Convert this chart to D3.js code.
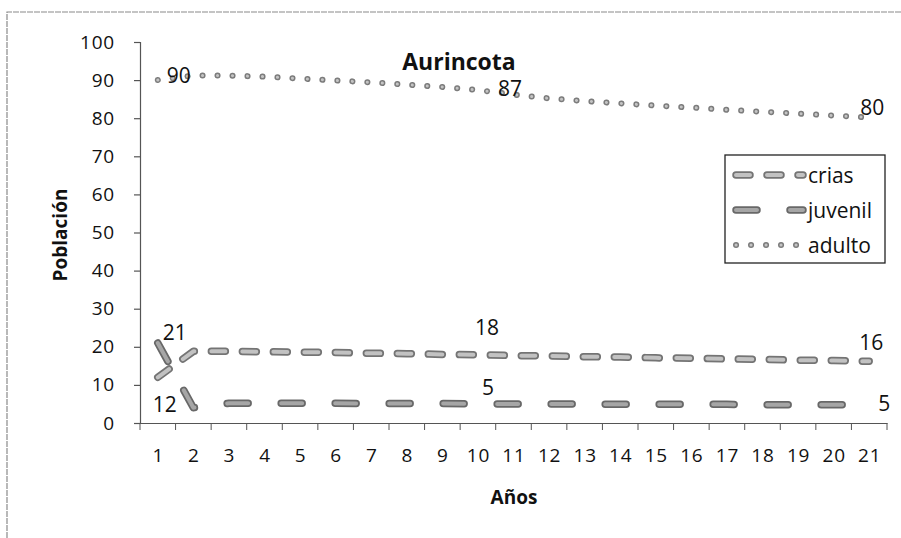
<!DOCTYPE html>
<html>
<head>
<meta charset="utf-8">
<script src="https://cdn.jsdelivr.net/npm/d3@7"></script>
<style>
  body { margin: 0; background: #fff; }
  svg { display: block; font-family: "Open Sans", "Noto Sans", sans-serif; }
</style>
</head>
<body>
<div id="chart-container"></div>
<script>
// Datos
var years = [1, 2, 3, 4, 5, 6, 7, 8, 9, 10, 11, 12, 13, 14, 15, 16, 17, 18, 19, 20, 21];
var crias = [12, 18.8, 18.8, 18.7, 18.6, 18.5, 18.3, 18.2, 18.0, 17.9, 17.7,
             17.6, 17.4, 17.3, 17.1, 17.0, 16.8, 16.7, 16.5, 16.4, 16.2];
var juvenil = [21, 4, 5.2, 5.2, 5.2, 5.2, 5.1, 5.1, 5.1, 5.0, 5.0,
               5.0, 5.0, 4.9, 4.9, 4.9, 4.9, 4.8, 4.8, 4.8, 4.8];
var adulto = [90, 91.2, 91.2, 90.9, 90.4, 89.9, 89.4, 88.8, 88.2, 87.4, 86.2,
              85.2, 84.5, 83.9, 83.3, 82.8, 82.2, 81.7, 81.2, 80.7, 80.2];
var yTicks = [0, 10, 20, 30, 40, 50, 60, 70, 80, 90, 100];
var seriesNames = ["crias", "juvenil", "adulto"];
var labelledIdx = [0, 9, 20];

//Namespaces
var aur = aur || {};

aur.svg = function() {
  return d3.select("#chart-container").append("svg")
    .attr("width", 901).attr("height", 538);
}

aur.x = d3.scalePoint().domain(years).range([140, 887]).padding(0.5);
aur.xBand = d3.scaleBand().domain(years).range([140, 887]);
aur.y = d3.scaleLinear().domain([0, 100]).range([423, 42]);

// estilos de linea (contorno oscuro + relleno claro)
aur.styles = {
  crias:   { outer: "#747474", inner: "#c2c2c2", w: 7.5, wi: 4, dash: "14,17" },
  juvenil: { outer: "#686868", inner: "#a6a6a6", w: 7.5, wi: 4, dash: "21,33" },
  adulto:  { outer: "#7c7c7c", inner: "#c4c4c4", w: 6,   wi: 3, dash: "0.1,14.9" }
};

// posiciones de etiquetas por serie [dx, dy, anchor]
aur.labelPos = {
  crias:   [[7, 27, "middle"], [9, -28, "middle"], [2, -19, "middle"]],
  juvenil: [[17, -11, "middle"], [10, -17, "middle"], [9, -2, "start"]],
  adulto:  [[9, -5, "start"], [20, -2, "start"], [-9, -10, "start"]]
};

aur.drawStyled = function(g, d, st) {
  g.append("path").attr("d", d).attr("fill", "none")
    .attr("stroke", st.outer).attr("stroke-width", st.w)
    .attr("stroke-linecap", "round").attr("stroke-linejoin", "round")
    .attr("stroke-dasharray", st.dash);
  g.append("path").attr("d", d).attr("fill", "none")
    .attr("stroke", st.inner).attr("stroke-width", st.wi)
    .attr("stroke-linecap", "round").attr("stroke-linejoin", "round")
    .attr("stroke-dasharray", st.dash);
}

aur.build = function() {
  var svg = aur.svg();
  var data = { crias: crias, juvenil: juvenil, adulto: adulto };

  // marco exterior
  svg.append("path").attr("d", "M7,538 V12 H901")
    .attr("fill", "none").attr("stroke", "#8a8a8a").attr("stroke-width", 1.2)
    .attr("stroke-dasharray", "6,1");

  // eje Y
  var yAxis = svg.append("g").attr("transform", "translate(140,0)")
    .call(d3.axisLeft(aur.y).tickValues(yTicks).tickSize(6).tickPadding(19));
  yAxis.selectAll("text").attr("font-size", 19).attr("fill", "#111")
    .attr("font-family", "Open Sans").attr("letter-spacing", 0.8);

  // eje X
  var xAxis = svg.append("g").attr("transform", "translate(0,423)")
    .call(d3.axisBottom(aur.x).tickSize(0).tickPadding(26));
  xAxis.selectAll("text").attr("font-size", 19).attr("fill", "#111")
    .attr("font-family", "Open Sans").attr("letter-spacing", 0.8);
  xAxis.selectAll(".edge").data(years.concat(["end"])).enter().append("line")
    .attr("class", "edge")
    .attr("x1", function(d) { return d === "end" ? 887 : aur.xBand(d); })
    .attr("x2", function(d) { return d === "end" ? 887 : aur.xBand(d); })
    .attr("y1", 0).attr("y2", 7).attr("stroke", "#555");

  svg.selectAll(".domain, .tick line").attr("stroke", "#555").attr("stroke-width", 1.2);

  // lineas
  var line = d3.line()
    .x(function(d, i) { return aur.x(years[i]); })
    .y(function(d) { return aur.y(d); });
  seriesNames.forEach(function(name) {
    var g = svg.append("g").attr("class", "serie-" + name);
    aur.drawStyled(g, line(data[name]), aur.styles[name]);
    labelledIdx.forEach(function(idx, k) {
      var p = aur.labelPos[name][k];
      g.append("text")
        .attr("x", aur.x(years[idx]) + p[0])
        .attr("y", aur.y(data[name][idx]) + p[1])
        .attr("text-anchor", p[2]).attr("dominant-baseline", "central")
        .attr("font-size", 21).attr("fill", "#111")
        .text(Math.round(data[name][idx]));
    });
  });

  // titulos
  svg.append("text").attr("x", 459).attr("y", 61).attr("text-anchor", "middle")
    .attr("dominant-baseline", "central").attr("font-size", 23)
    .attr("font-weight", "bold").attr("fill", "#111").text("Aurincota");
  svg.append("text").attr("x", 514).attr("y", 497).attr("text-anchor", "middle")
    .attr("dominant-baseline", "central").attr("font-size", 19)
    .attr("font-weight", "bold").attr("fill", "#111").text("Años");
  svg.append("text").attr("transform", "translate(60,235) rotate(-90)")
    .attr("text-anchor", "middle").attr("dominant-baseline", "central")
    .attr("font-size", 19).attr("font-weight", "bold").attr("fill", "#111")
    .text("Población");

  // leyenda
  var lg = svg.append("g").attr("class", "legend");
  lg.append("rect").attr("x", 725).attr("y", 155).attr("width", 160).attr("height", 108)
    .attr("fill", "#fff").attr("stroke", "#222").attr("stroke-width", 1.3);
  var legY = d3.scalePoint().domain(seriesNames).range([175, 245]);
  seriesNames.forEach(function(name) {
    var yy = legY(name);
    aur.drawStyled(lg, "M736," + yy + "H803", aur.styles[name]);
    lg.append("text").attr("x", 808).attr("y", yy).attr("dominant-baseline", "central")
      .attr("font-size", 21).attr("fill", "#111").text(name);
  });
}

aur.build();
</script>
</body>
</html>
